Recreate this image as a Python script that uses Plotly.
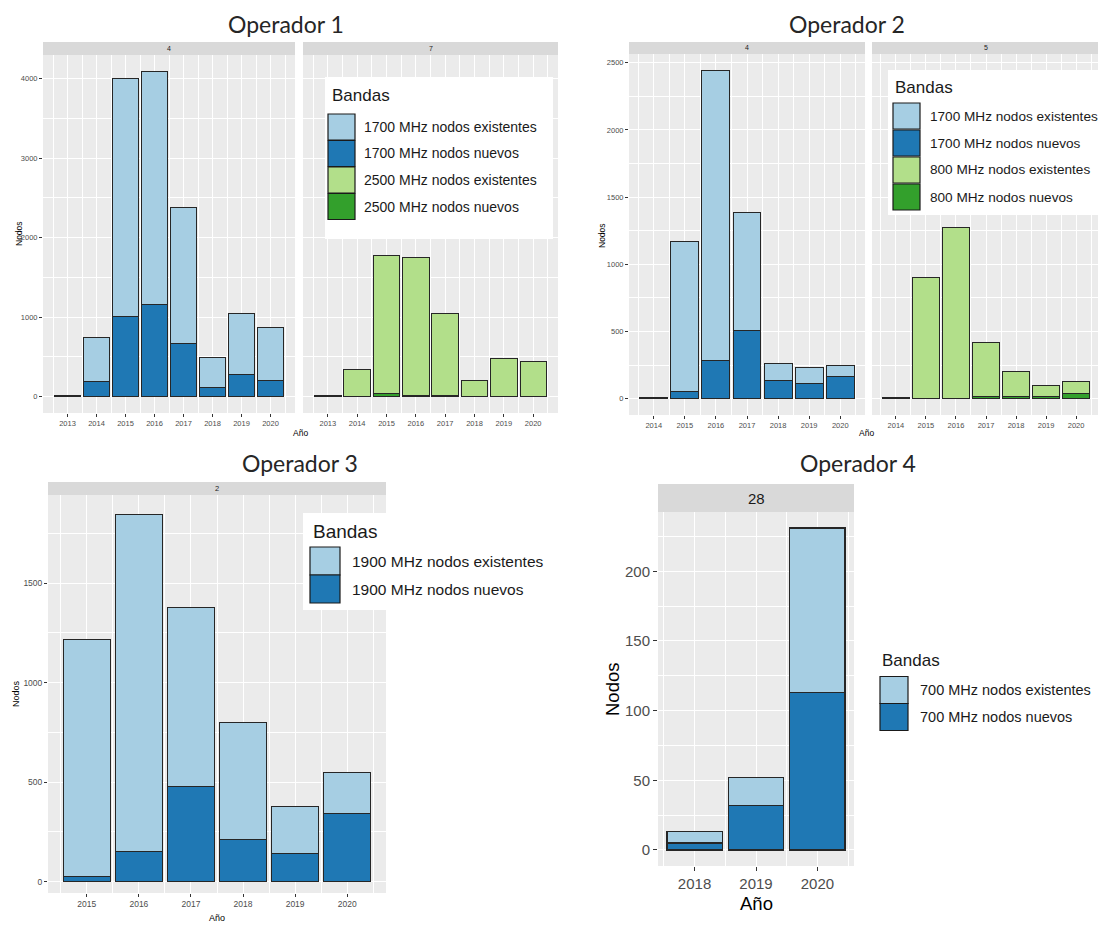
import plotly.graph_objects as go

# ---------------- data ----------------
op1_years = [2013, 2014, 2015, 2016, 2017, 2018, 2019, 2020]
op1_1700_nuevos = [10, 190, 1010, 1160, 670, 120, 285, 210]
op1_1700_existentes = [5, 560, 2990, 2930, 1710, 370, 760, 660]
op1_2500_nuevos = [10, 5, 35, 12, 12, 3, 5, 5]
op1_2500_existentes = [2, 335, 1740, 1743, 1028, 207, 470, 435]

op2_years = [2014, 2015, 2016, 2017, 2018, 2019, 2020]
op2_1700_nuevos = [2, 50, 285, 508, 136, 112, 161]
op2_1700_existentes = [4, 1120, 2158, 881, 124, 116, 82]
op2_800_nuevos = [2, 0, 0, 15, 15, 15, 37]
op2_800_existentes = [4, 898, 1277, 399, 184, 84, 92]

op3_years = [2015, 2016, 2017, 2018, 2019, 2020]
op3_1900_nuevos = [28, 151, 477, 213, 142, 342]
op3_1900_existentes = [1187, 1695, 902, 588, 238, 208]

op4_years = [2018, 2019, 2020]
op4_700_nuevos = [5, 32, 113]
op4_700_existentes = [8, 20, 118]

op1_yticks = [0, 1000, 2000, 3000, 4000]
op2_yticks = [0, 500, 1000, 1500, 2000, 2500]
op3_yticks = [0, 500, 1000, 1500]
op4_yticks = [0, 50, 100, 150, 200]

titles = ["Operador 1", "Operador 2", "Operador 3", "Operador 4"]
facets = ["4", "7", "4", "5", "2", "28"]
legend_title = "Bandas"
op1_bands = ["1700 MHz nodos existentes", "1700 MHz nodos nuevos",
             "2500 MHz nodos existentes", "2500 MHz nodos nuevos"]
op2_bands = ["1700 MHz nodos existentes", "1700 MHz nodos nuevos",
             "800 MHz nodos existentes", "800 MHz nodos nuevos"]
op3_bands = ["1900 MHz nodos existentes", "1900 MHz nodos nuevos"]
op4_bands = ["700 MHz nodos existentes", "700 MHz nodos nuevos"]
x_title = "Año"
y_title = "Nodos"

# ---------------- style ----------------
OFF = 8                      # page body margin of the html page
W, H = 1106 - OFF, 925 - OFF
LB, DB, LG, DG = "#A6CEE3", "#1F78B4", "#B2DF8A", "#33A02C"
FONT = "Liberation Sans, Arial, sans-serif"
TFONT = "Lato, Open Sans, sans-serif"
OUTLINE = "#262626"


def px(x):
    return (x - OFF) / W


def py(y):
    return 1 - (y - OFF) / H


fig = go.Figure()
layout = dict(width=W, height=H, margin=dict(l=0, r=0, t=0, b=0),
              paper_bgcolor="white", plot_bgcolor="#EBEBEB",
              barmode="stack", showlegend=False, autosize=False)
shapes = []
annotations = []


def xrange_for(years):
    span = (years[-1] + 0.45) - (years[0] - 0.45)
    return [years[0] - 0.45 - 0.05 * span, years[-1] + 0.45 + 0.05 * span]


def add_panel(i, x0, x1, ytop, ybot, years, yrng, yticks, yminor,
              series, tick_size, show_y=True, grid_w=1.0, line_w=1.0, ticklen=3):
    sx = "" if i == 1 else str(i)
    layout["xaxis" + sx] = dict(
        domain=[px(x0), px(x1)], anchor="y" + sx, range=xrange_for(years),
        tickmode="array", tickvals=years, ticktext=[str(v) for v in years],
        ticks="outside", ticklen=ticklen, tickcolor="#333333", tickwidth=1,
        tickfont=dict(family=FONT, size=tick_size, color="#4D4D4D"),
        showgrid=True, gridcolor="white", gridwidth=grid_w,
        minor=dict(tickmode="array", tickvals=[v + 0.5 for v in [years[0] - 1] + years],
                   showgrid=True, gridcolor="white", gridwidth=grid_w * 0.5, ticks=""),
        zeroline=False, showline=False, fixedrange=True)
    layout["yaxis" + sx] = dict(
        domain=[py(ybot), py(ytop)], anchor="x" + sx, range=yrng,
        tickmode="array", tickvals=yticks, ticktext=[str(v) for v in yticks],
        ticks="outside" if show_y else "", ticklen=ticklen, tickcolor="#333333",
        showticklabels=show_y,
        tickfont=dict(family=FONT, size=tick_size, color="#4D4D4D"),
        showgrid=True, gridcolor="white", gridwidth=grid_w,
        minor=dict(tickmode="array", tickvals=yminor, showgrid=True,
                   gridcolor="white", gridwidth=grid_w * 0.5, ticks=""),
        zeroline=False, showline=False, fixedrange=True)
    for vals, col in series:
        fig.add_trace(go.Bar(x=years, y=vals, xaxis="x" + sx, yaxis="y" + sx,
                             width=0.9, marker=dict(color=col, line=dict(color=OUTLINE, width=line_w)),
                             showlegend=False, hoverinfo="x+y"))


def strip(x0, x1, y0, y1, label, size):
    shapes.append(dict(type="rect", xref="paper", yref="paper", x0=px(x0), x1=px(x1),
                       y0=py(y1), y1=py(y0), fillcolor="#D9D9D9", line=dict(width=0), layer="above"))
    annotations.append(dict(x=px((x0 + x1) / 2), y=py((y0 + y1) / 2), xref="paper", yref="paper",
                            text=label, showarrow=False, xanchor="center", yanchor="middle",
                            font=dict(family=FONT, size=size, color="#1A1A1A")))


def text(x, y, s, size, color="black", family=FONT, xanchor="center", angle=0, yanchor="middle"):
    annotations.append(dict(x=px(x), y=py(y), xref="paper", yref="paper", text=s,
                            showarrow=False, xanchor=xanchor, yanchor=yanchor, textangle=angle,
                            font=dict(family=family, size=size, color=color)))


def legend(box, title_xy, title_size, keys_x, rows_y, key_h, text_x, labels, colors, text_size):
    if box is not None:
        bx0, by0, bx1, by1 = box
        shapes.append(dict(type="rect", xref="paper", yref="paper", x0=px(bx0), x1=px(bx1),
                           y0=py(by1), y1=py(by0), fillcolor="white", line=dict(width=0), layer="above"))
    text(title_xy[0], title_xy[1], legend_title, title_size, color="#1A1A1A", xanchor="left")
    for lab, col, yc in zip(labels, colors, rows_y):
        shapes.append(dict(type="rect", xref="paper", yref="paper", x0=px(keys_x[0]), x1=px(keys_x[1]),
                           y0=py(yc + key_h / 2), y1=py(yc - key_h / 2), fillcolor=col,
                           line=dict(color="#1A1A1A", width=1.2), layer="above"))
        text(text_x, yc, lab, text_size, color="#1A1A1A", xanchor="left")


# ---------------- Operador 1 ----------------
op1_yr = [-204.5, 4294.5]
op1_minor = [500, 1500, 2500, 3500]
add_panel(1, 43, 295, 55, 413, op1_years, op1_yr, op1_yticks, op1_minor,
          [(op1_1700_nuevos, DB), (op1_1700_existentes, LB)], 7.5)
add_panel(2, 303, 558, 55, 413, op1_years, op1_yr, op1_yticks, op1_minor,
          [(op1_2500_nuevos, DG), (op1_2500_existentes, LG)], 7.5, show_y=False)
strip(43, 295, 42, 55, facets[0], 7)
strip(303, 558, 42, 55, facets[1], 7)
text(286, 8.5, titles[0], 23, color="#262626", family=TFONT, yanchor="top")
text(19, 234, y_title, 8.5, angle=-90)
text(300, 433, x_title, 8.5)
legend((325, 77, 553, 239), (330, 95), 17, (328, 355), [127, 153.5, 180, 206.5], 26,
       362, op1_bands, [LB, DB, LG, DG], 14)

# ---------------- Operador 2 ----------------
op2_yr = [-122, 2565]
op2_minor = [250, 750, 1250, 1750, 2250]
add_panel(3, 629, 865, 54, 415, op2_years, op2_yr, op2_yticks, op2_minor,
          [(op2_1700_nuevos, DB), (op2_1700_existentes, LB)], 7.5)
add_panel(4, 872, 1100, 54, 415, op2_years, op2_yr, op2_yticks, op2_minor,
          [(op2_800_nuevos, DG), (op2_800_existentes, LG)], 7.5, show_y=False)
strip(629, 865, 42, 54, facets[2], 7)
strip(872, 1100, 42, 54, facets[3], 7)
text(847, 8.5, titles[1], 23, color="#262626", family=TFONT, yanchor="top")
text(602, 236, y_title, 8.5, angle=-90)
text(866, 433, x_title, 8.5)
legend((888, 70, 1104, 215), (893, 88), 17, (893, 920), [116, 143, 170, 197], 26,
       928, op2_bands, [LB, DB, LG, DG], 13.6)

# ---------------- Operador 3 ----------------
op3_yr = [-57, 1943]
op3_minor = [250, 750, 1250, 1750]
add_panel(5, 48, 386, 495, 893, op3_years, op3_yr, op3_yticks, op3_minor,
          [(op3_1900_nuevos, DB), (op3_1900_existentes, LB)], 8.5)
strip(48, 386, 482, 495, facets[4], 7.5)
text(300, 463, titles[2], 23, color="#262626", family=TFONT)
text(16, 694, y_title, 9, angle=-90)
text(217, 918, x_title, 9)
legend((303, 513, 555, 610), (311, 531), 19, (310, 340), [561, 589], 28,
       350, op3_bands, [LB, DB], 15.5)

# ---------------- Operador 4 ----------------
op4_yr = [-11.55, 242.55]
op4_minor = [25, 75, 125, 175, 225]
add_panel(6, 658, 854, 512, 866, op4_years, op4_yr, op4_yticks, op4_minor,
          [(op4_700_nuevos, DB), (op4_700_existentes, LB)], 15, grid_w=1.3, line_w=1.3, ticklen=4)
strip(658, 854, 484, 512, facets[5], 15)
text(858, 463, titles[3], 23, color="#262626", family=TFONT)
text(612, 690, y_title, 18.5, angle=-90)
text(756, 903, x_title, 18.5)
legend(None, (880, 660), 17, (880, 908), [690, 717], 27,
       918, op4_bands, [LB, DB], 14.5)

layout["shapes"] = shapes
layout["annotations"] = annotations
fig.update_layout(**layout)
fig.write_html("out.html")
